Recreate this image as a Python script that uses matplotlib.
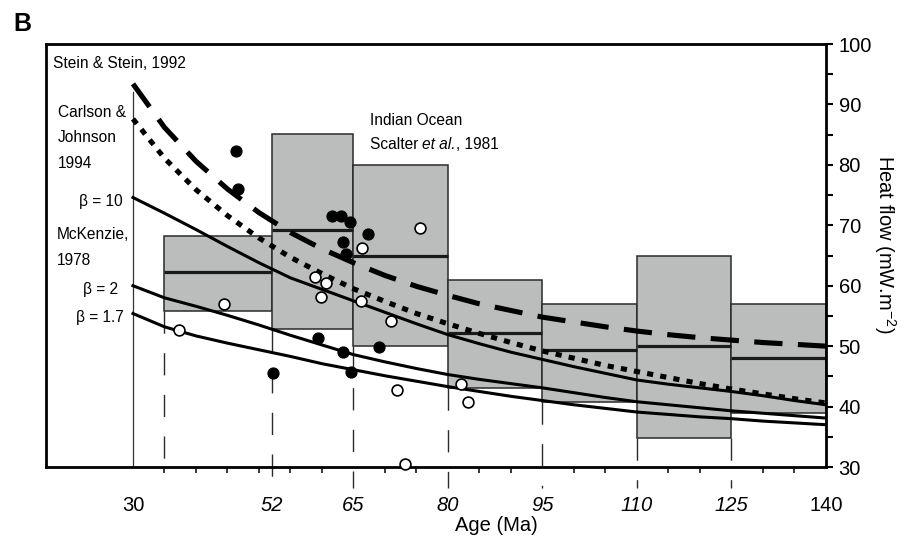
import matplotlib
matplotlib.use("Agg")
import matplotlib.pyplot as plt
from matplotlib.transforms import offset_copy
import numpy as np

plt.rcParams['font.family'] = ['Liberation Sans', 'DejaVu Sans']
plt.rcParams['mathtext.fontset'] = 'custom'
plt.rcParams['mathtext.rm'] = 'Liberation Sans'
plt.rcParams['mathtext.default'] = 'regular'

# model curves, read at 5 Ma steps
ages = [30, 35, 40, 45, 50, 55, 60, 65, 70, 75, 80, 85, 90, 95, 100, 105, 110, 115, 120, 125, 130, 135, 140]
stein = [93.4, 86.2, 80.6, 76.0, 72.1, 68.8, 66.1, 63.8, 61.7, 59.9, 58.4, 57.0, 55.9, 54.8,
         54.0, 53.2, 52.5, 51.9, 51.4, 51.0, 50.6, 50.3, 50.0]
carlson = [87.6, 81.1, 75.9, 71.6, 67.9, 64.7, 62.0, 59.5, 57.4, 55.4, 53.7, 52.1, 50.6, 49.2,
           48.0, 46.8, 45.8, 44.8, 43.8, 42.9, 42.1, 41.3, 40.6]
beta10 = [74.6, 72.0, 69.3, 66.5, 63.8, 61.3, 59.4, 57.5, 55.6, 53.7, 51.9, 50.4, 49.0, 47.8,
          46.6, 45.5, 44.4, 43.7, 43.1, 42.5, 41.8, 41.0, 40.3]
beta2 = [60.0, 58.0, 56.6, 55.1, 53.5, 51.8, 50.2, 48.6, 47.4, 46.3, 45.3, 44.5, 43.8, 43.1,
         42.3, 41.5, 40.8, 40.3, 39.8, 39.3, 38.9, 38.5, 38.1]
beta17 = [55.4, 53.2, 51.7, 50.5, 49.4, 48.3, 47.1, 46.1, 45.1, 44.2, 43.3, 42.5, 41.7, 41.0,
          40.3, 39.7, 39.1, 38.7, 38.3, 38.0, 37.6, 37.3, 37.0]

# Indian Ocean boxes (Sclater et al., 1981)
box_left = [35, 52, 65, 80, 95, 110, 125]
box_right = [52, 65, 80, 95, 110, 125, 140]
box_top = [68.2, 85.1, 79.9, 61.0, 57.0, 65.0, 57.0]
box_bottom = [55.9, 52.9, 50.1, 43.0, 40.8, 34.8, 38.9]
box_median = [62.2, 69.2, 65.0, 52.2, 49.3, 50.0, 48.1]

# heat flow measurements
filled_age = [46.3, 46.7, 61.6, 63.0, 64.4, 67.3, 63.3, 63.8, 59.4, 63.3, 69.0, 64.6, 52.2]
filled_hf = [82.3, 76.0, 71.6, 71.6, 70.5, 68.5, 67.2, 65.2, 51.4, 49.0, 49.9, 45.7, 45.5]
open_age = [44.4, 37.3, 58.9, 60.6, 59.8, 66.3, 66.2, 75.6, 71.0, 71.9, 82.1, 83.2, 73.2]
open_hf = [57.0, 52.6, 61.5, 60.5, 58.2, 66.3, 57.4, 69.5, 54.1, 42.8, 43.8, 40.8, 30.5]

xtick_pos = [30, 52, 65, 80, 95, 110, 125, 140]

fig = plt.figure(figsize=(9.06, 5.44), dpi=100)
ax = fig.add_axes([0.0508, 0.1415, 0.8609, 0.7776])
ax.set_xlim(16.2, 140)
ax.set_ylim(30, 100)

gray = '#bbbdbd'
for l, r, t, b, m in zip(box_left, box_right, box_top, box_bottom, box_median):
    ax.bar(l, t - b, width=r - l, bottom=b, align='edge', color=gray,
           edgecolor='#2a2a2a', linewidth=1.1, zorder=1)
    ax.hlines(m, l, r, color='#1a1a1a', linewidth=2.3, zorder=2)

# dashed guides from boxes down to the axis
edges = box_left + [box_right[-1]]
for i, e in enumerate(edges[:-1]):
    if i == 0:
        low = box_bottom[0]
        end = 30
    else:
        low = min(box_bottom[i - 1], box_bottom[i])
        end = 26.5
    ax.plot([e, e], [low, end], color='#2a2a2a', lw=1.0, linestyle=(0, (16, 14)),
            clip_on=False, zorder=1)

ax.plot([30, 30], [92.0, 30], color='#333333', lw=0.9, zorder=1)

ax.plot(ages, stein, color='black', lw=3.7, linestyle=(0, (5.5, 3)), zorder=3)
ax.plot(ages, carlson, color='black', lw=3.7, linestyle=(0, (1.2, 1.4)), zorder=3)
ax.plot(ages, beta10, color='black', lw=2.2, zorder=3)
ax.plot(ages, beta2, color='black', lw=2.2, zorder=3)
ax.plot(ages, beta17, color='black', lw=2.2, zorder=3)

ax.plot(filled_age, filled_hf, 'o', color='black', markersize=7.8, zorder=4, clip_on=False)
ax.plot(open_age, open_hf, 'o', markerfacecolor='white', markeredgecolor='black',
        markeredgewidth=1.2, markersize=7.8, zorder=4, clip_on=False)

# annotations
fs = 11.2
ax.text(17.3, 96.7, 'Stein & Stein, 1992', fontsize=fs, va='center', ha='left')
ax.text(18.1, 88.7, 'Carlson &', fontsize=fs, va='center')
ax.text(18.1, 84.6, 'Johnson', fontsize=fs, va='center')
ax.text(18.1, 80.3, '1994', fontsize=fs, va='center')
ax.text(28.4, 74.0, 'β = 10', fontsize=fs, va='center', ha='right')
ax.text(17.9, 68.4, 'McKenzie,', fontsize=fs, va='center')
ax.text(17.9, 64.1, '1978', fontsize=fs, va='center')
ax.text(27.6, 59.3, 'β = 2', fontsize=fs, va='center', ha='right')
ax.text(28.6, 54.8, 'β = 1.7', fontsize=fs, va='center', ha='right')
ax.text(67.6, 87.4, 'Indian Ocean', fontsize=fs, va='center')

# "Scalter et al., 1981" built from three pieces so only "et al." is italic
fig.canvas.draw()
r = fig.canvas.get_renderer()
t1 = ax.text(67.6, 83.3, 'Scalter ', fontsize=fs, va='center')
w1 = t1.get_window_extent(r).width
t2 = ax.text(67.6, 83.3, 'et al.', fontsize=fs, va='center', style='italic',
             transform=offset_copy(ax.transData, fig=fig, x=w1, units='dots'))
w2 = t2.get_window_extent(r).width
ax.text(67.6, 83.3, ', 1981', fontsize=fs, va='center',
        transform=offset_copy(ax.transData, fig=fig, x=w1 + w2, units='dots'))

# axes styling
for s in ax.spines.values():
    s.set_linewidth(2.0)
ax.yaxis.tick_right()
ax.yaxis.set_label_position('right')
ax.set_yticks(np.arange(30, 101, 10))
ax.set_yticks(np.arange(35, 100, 10), minor=True)
ax.tick_params(axis='y', which='both', direction='out', length=5, width=1.5,
               labelsize=14.5, pad=4, left=False, right=True)
ax.set_xticks(xtick_pos)
ax.set_xticklabels([str(v) for v in xtick_pos])
ax.set_xticks(np.arange(30, 141, 5), minor=True)
ax.tick_params(axis='x', which='major', length=0, pad=21, labelsize=14.5)
ax.tick_params(axis='x', which='minor', direction='out', length=4.5, width=1.1)
for lab in ax.get_xticklabels()[1:-1]:
    lab.set_style('italic')

ax.set_xlabel('Age (Ma)', fontsize=14.5)
ax.xaxis.set_label_coords(0.578, -0.115)
ax.set_ylabel('Heat flow (mW.m$^{-2}$)', fontsize=14.5, rotation=-90, va='center')
ax.yaxis.set_label_coords(1.076, 0.527)

fig.text(22 / 906, 1 - 24 / 544, 'B', fontsize=18, fontweight='bold', ha='center', va='center')

fig.savefig('out.png', dpi=100)
